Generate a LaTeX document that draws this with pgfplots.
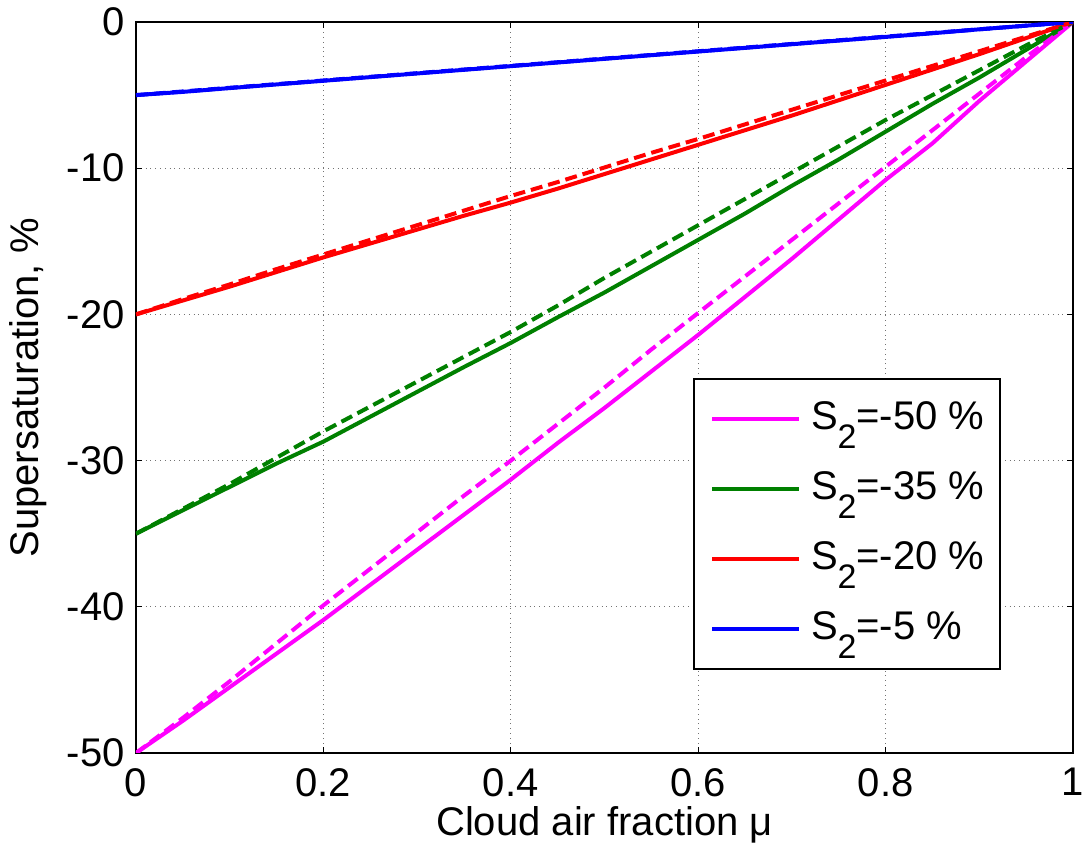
\documentclass[border=0pt]{standalone}
\usepackage{pgfplots}
\pgfplotsset{compat=1.18}
\usepackage{pgfplotstable}
\usepackage{fontspec}
\setmainfont{Liberation Sans}
\definecolor{mgreen}{rgb}{0,0.5,0}
\definecolor{mmag}{rgb}{1,0,1}
\pgfplotstableread{
x    ms     md     gs     gd     rs     rd     bs     bd
0    -50    -50    -35    -35    -20    -20    -5     -5
0.05 -47.8  -47.6  -33.4  -33.3  -19.05 -18.95 -4.78  -4.75
0.10 -45.5  -45.1  -31.8  -31.6  -18.1  -17.95 -4.52  -4.5
0.15 -43.2  -42.5  -30.2  -29.8  -17.1  -16.9  -4.27  -4.25
0.20 -40.9  -39.9  -28.7  -28.0  -16.1  -15.9  -4.02  -4.0
0.25 -38.5  -37.4  -27.0  -26.3  -15.15 -14.9  -3.77  -3.75
0.30 -36.1  -34.9  -25.3  -24.6  -14.2  -13.9  -3.52  -3.5
0.35 -33.7  -32.4  -23.6  -22.9  -13.25 -12.9  -3.27  -3.25
0.40 -31.3  -30.0  -21.95 -21.2  -12.35 -11.9  -3.02  -3.0
0.45 -28.8  -27.5  -20.2  -19.4  -11.4  -10.95 -2.77  -2.75
0.50 -26.4  -25.0  -18.5  -17.5  -10.4  -9.95  -2.52  -2.5
0.55 -23.9  -22.4  -16.7  -15.7  -9.4   -8.95  -2.27  -2.25
0.60 -21.4  -19.9  -14.9  -13.9  -8.4   -8.0   -2.02  -2.0
0.65 -18.8  -17.4  -13.1  -12.1  -7.4   -7.0   -1.77  -1.75
0.70 -16.2  -14.9  -11.2  -10.3  -6.4   -6.0   -1.52  -1.5
0.75 -13.5  -12.4  -9.4   -8.5   -5.35  -5.0   -1.27  -1.25
0.80 -10.8  -9.9   -7.5   -6.7   -4.3   -4.0   -1.02  -1.0
0.85 -8.3   -7.4   -5.6   -5.0   -3.25  -3.0   -0.77  -0.75
0.90 -5.4   -4.9   -3.8   -3.3   -2.2   -2.0   -0.5   -0.5
0.95 -2.7   -2.4   -1.9   -1.6   -1.1   -1.0   -0.25  -0.25
1.00 0      0      0      0      0      0      0      0
}\data
\begin{document}
\begin{tikzpicture}[font=\fontsize{20}{24}\selectfont]
\begin{axis}[
  scale only axis, width=468.5pt, height=365.5pt,
  xmin=0, xmax=1, ymin=-50, ymax=0,
  xtick={0,0.2,0.4,0.6,0.8,1},
  xticklabels={0,0.2,0.4,0.6,0.8,1},
  ytick={-50,-40,-30,-20,-10,0},
  yticklabels={-50,-40,-30,-20,-10,0},
  grid=major,
  grid style={dotted, black!55, line width=0.6pt},
  tick align=inside, major tick length=3pt,
  tick style={black, line width=0.6pt},
  axis line style={line width=1pt},
  xticklabel style={inner sep=0pt, yshift=-7.5pt},
  yticklabel style={inner sep=0pt, xshift=-5.5pt},
  xlabel={Cloud air fraction μ},
  ylabel={Supersaturation, \%},
  xlabel style={at={(axis description cs:0.5,-0.1135)}, anchor=base, inner sep=0pt, text height=13pt},
  ylabel style={at={(axis description cs:-0.1153,0.5)}, anchor=center, inner sep=0pt},
  legend style={at={(axis description cs:0.5945,0.513)}, anchor=north west,
    draw=black, line width=1pt, fill=white,
    inner xsep=8pt, inner ysep=2.5pt,
    nodes={inner sep=0pt, anchor=base west, text height=22.5pt, text depth=12.5pt},
    /tikz/every odd column/.append style={column sep=5pt}},
  legend image code/.code={\draw[#1] (0pt,5pt) -- (43.5pt,5pt);},
]
\addplot[mmag, line width=2pt] table[x=x, y=ms] {\data};
\addlegendentry{S\raisebox{-9.5pt}{\fontsize{17}{17}\selectfont 2}=-50 \%}
\addplot[mgreen, line width=2pt] table[x=x, y=gs] {\data};
\addlegendentry{S\raisebox{-9.5pt}{\fontsize{17}{17}\selectfont 2}=-35 \%}
\addplot[red, line width=2pt] table[x=x, y=rs] {\data};
\addlegendentry{S\raisebox{-9.5pt}{\fontsize{17}{17}\selectfont 2}=-20 \%}
\addplot[blue, line width=2pt] table[x=x, y=bs] {\data};
\addlegendentry{S\raisebox{-9.5pt}{\fontsize{17}{17}\selectfont 2}=-5 \%}
\addplot[mmag, line width=2pt, dash pattern=on 6pt off 3pt, forget plot] table[x=x, y=md] {\data};
\addplot[mgreen, line width=2pt, dash pattern=on 6pt off 3pt, forget plot] table[x=x, y=gd] {\data};
\addplot[red, line width=2pt, dash pattern=on 6pt off 3pt, forget plot] table[x=x, y=rd] {\data};
\addplot[blue, line width=2pt, dash pattern=on 6pt off 3pt, forget plot] table[x=x, y=bd] {\data};
\end{axis}
\pgfresetboundingbox
\path (current axis.south west) ++(-68pt,-52pt) rectangle ++(541.5pt,428.5pt);
\end{tikzpicture}
\end{document}
